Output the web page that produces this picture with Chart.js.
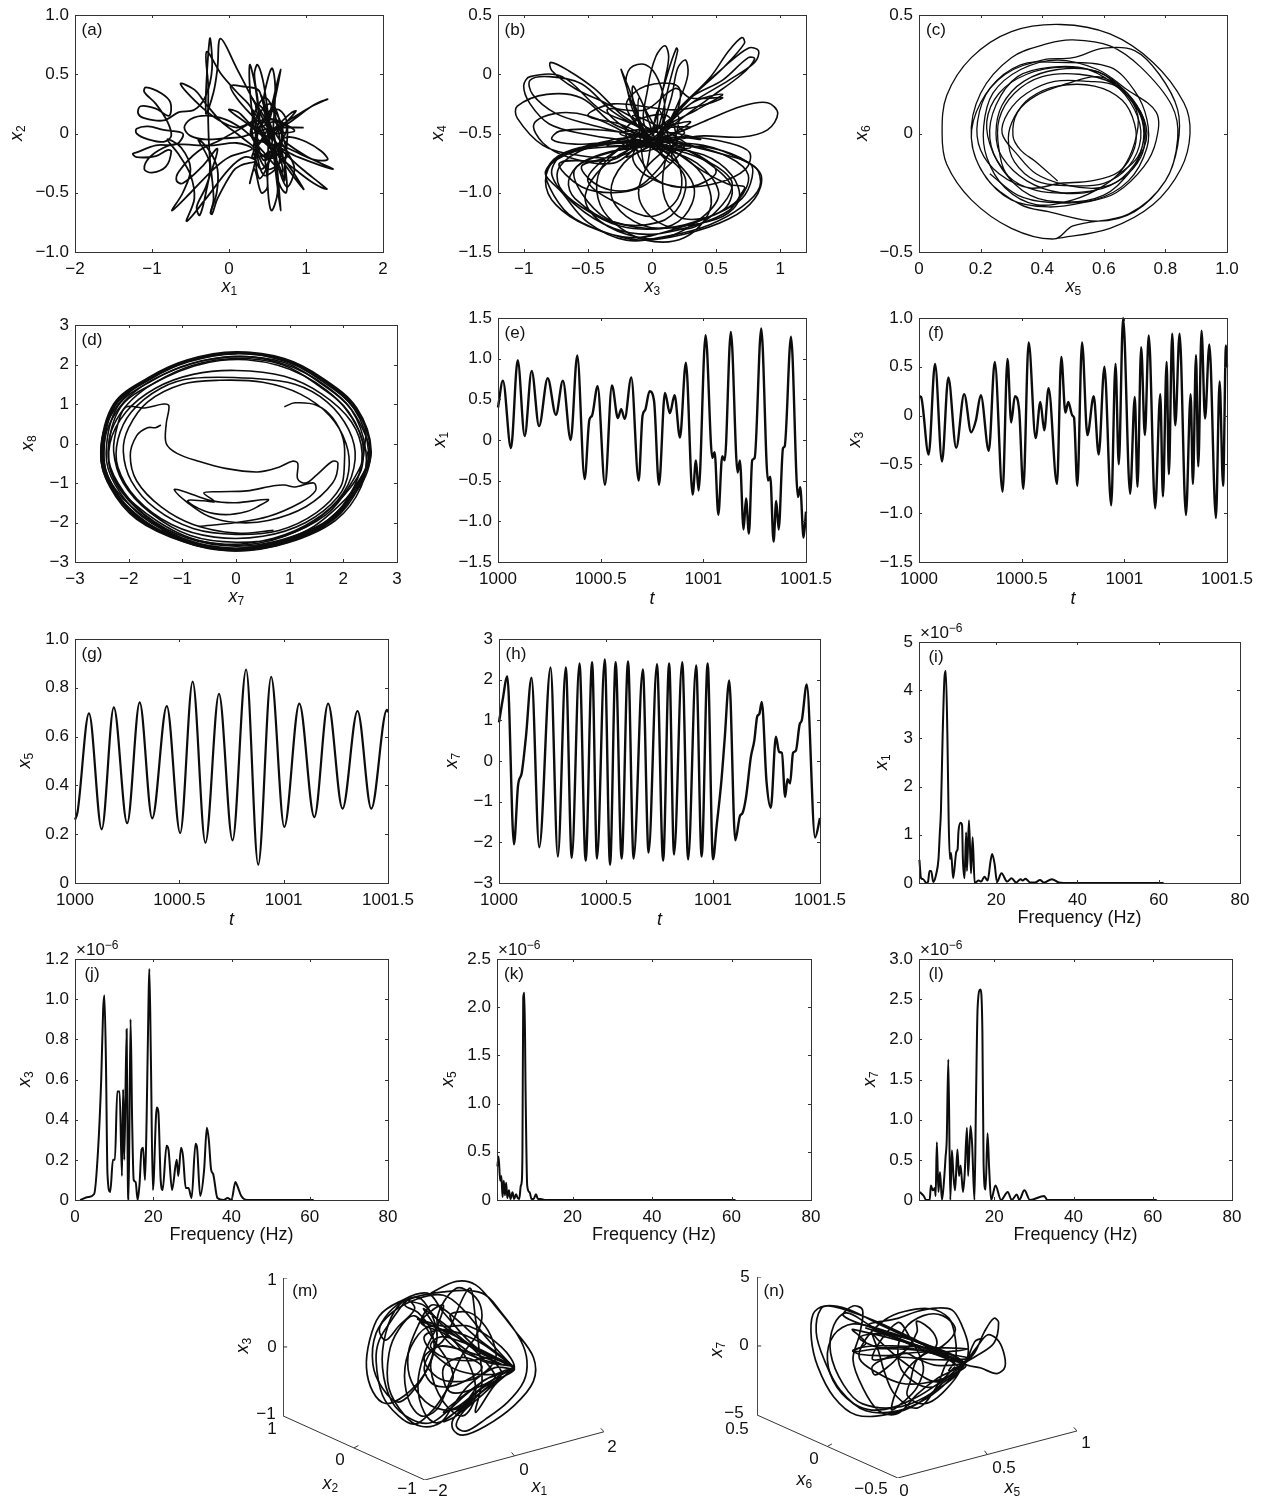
<!DOCTYPE html>
<html>
<head>
<meta charset="utf-8">
<title>Phase portraits, time series and spectra</title>
<script src="https://cdn.jsdelivr.net/npm/chart.js@4"></script>
<style>
  html, body { margin: 0; padding: 0; background: #fff; }
  #page { position: relative; width: 1266px; height: 1499px; overflow: hidden; }
  canvas { position: absolute; }
</style>
</head>
<body>
<div id="page"></div>
<script>

// (a) x1 against x2
const pathA = [[.97,.05],[.7,.05],[.5,.04],[.3,0],[.15,-.03],[-.05,-.04],[-.3,-.05],[-.5,-.02],[-.58,.05],[-.5,.12],[-.3,.15],[-.05,.12],[.15,.05],[.35,-.05],[.6,-.1],[.9,-.2],[1.35,-.3],[1,-.19],[.7,-.05],[.8,-.03],[1,-.07],[1.2,-.15],[1.28,-.22],[1.1,-.22],[.85,-.15],[.6,-.08],[.7,-.15],[.95,-.3],[1.2,-.43],[1.27,-.47],[1.1,-.42],[.85,-.3],[.65,-.2],[.75,-.25],[.97,-.47],[.8,-.33],[.6,-.15],[.45,-.05],[.8,.1],[1.1,.24],[1.28,.29],[1.05,.22],[.7,.08],[.5,0],[.6,.05],[.8,.17],[.87,.19],[.75,.1],[.5,-.05],[.37,-.05],[.28,.3],[.27,.58],[.34,.4],[.4,.1],[.37,.3],[.33,.5],[.37,.58],[.44,.45],[.5,.2],[.55,-.05],[.45,.25],[.5,.45],[.56,.55],[.6,.4],[.58,.1],[.55,-.1],[.5,.05],[.58,.3],[.67,.54],[.6,.3],[.5,.05],[.55,.18],[.65,.2],[.75,.1],[.75,-.1],[.72,-.3],[.72,-.4],[.67,-.3],[.52,-.1],[.37,.05],[.35,-.2],[.27,-.42],[.33,-.3],[.42,-.5],[.5,-.45],[.47,-.2],[.52,-.15],[.5,-.4],[.55,-.65],[.63,-.5],[.6,-.2],[.57,-.1],[.62,-.4],[.67,-.65],[.64,-.4],[.6,-.1],[.6,-.3],[.67,-.45],[.74,-.5],[.75,-.4],[.7,-.2],[.5,.05],[.3,.3],[.1,.55],[-.11,.8],[-.15,.55],[-.2,.35],[-.3,.17],[-.25,.8],[-.22,.55],[-.3,.32],[-.45,.2],[-.65,.18],[-.85,.11],[-1.1,.13],[-1.18,.17],[-1.15,.23],[-.95,.21],[-.78,.15],[-.76,.26],[-.88,.34],[-1.08,.39],[-1.1,.35],[-.95,.25],[-.8,.1],[-.75,-.02],[-.85,-.07],[-1.05,-.05],[-1.2,0],[-1.2,.04],[-1.05,.06],[-.85,.03],[-.6,0],[-.68,-.09],[-.95,-.1],[-1.2,-.16],[-1.25,-.17],[-1.2,-.2],[-.95,-.19],[-.8,-.14],[-.75,-.15],[-.82,-.28],[-1,-.33],[-1.1,-.3],[-1.03,-.2],[-.85,-.12],[-.7,-.09],[-.4,-.1],[-.2,-.1],[.1,-.08],[.3,-.13],[0,-.2],[-.2,-.3],[-.5,-.5],[-.74,-.65],[-.6,-.5],[-.5,-.3],[-.62,-.12],[-.8,-.05],[-.65,-.18],[-.5,-.35],[-.45,-.55],[-.55,-.74],[-.3,-.55],[0,-.3],[.2,-.2],[.35,-.23],[.15,-.27],[.05,-.32],[-.15,-.55],[-.22,-.68],[-.24,-.67],[-.16,-.5],[-.15,-.3],[-.25,-.15],[-.4,-.05],[-.25,-.25],[-.3,-.5],[-.38,-.69],[-.42,-.62],[-.3,-.45],[-.15,-.13],[-.35,-.28],[-.6,-.42],[-.68,-.4],[-.65,-.32],[-.4,-.15],[-.1,-.05],[.3,.1],[.1,.05],[-.15,.12],[-.4,.25],[-.63,.42],[-.45,.37],[-.3,.25],[-.1,.1],[.1,0],[.3,-.1],[.5,-.2],[.4,.35],[.15,.4],[.02,.4],[.1,.3],[.3,.15],[.5,.02],[.7,-.2],[.5,-.3],[.35,-.1],[.4,.1],[.6,.1],[.75,-.2],[.5,-.1],[.3,.2],[.45,.05]];
const pathA2 = [[.3,.3],[.5,.1],[.75,-.15],[.85,-.3],[.75,-.45],[.62,-.25],[.4,.1],[.35,.25],[.45,.2],[.6,-.1],[.42,-.3],[.32,-.1],[.55,.2],[.7,.02],[.6,-.2],[.38,-.15],[.3,.1],[.47,.3],[.62,.1],[.65,-.25],[.45,-.35],[.36,-.05],[.5,.12],[.75,.05],[.55,-.15],[.3,-.2],[.5,-.02],[.85,.02],[.6,.1],[.35,.05],[.12,.18],[0,.2],[.3,.05],[.55,-.12],[.4,-.38],[.35,-.15],[.52,.08],[.42,.32],[.55,.02],[.7,-.32],[.48,-.18],[.28,.02],[.55,.25],[.68,-.08],[.44,-.22],[.3,.2],[.1,.35],[-.1,.5],[-.29,.69],[-.27,.4],[-.27,.1],[-.25,-.2],[-.2,-.55],[-.24,-.67]];

// (b) x3 against x4
const pathB = [[0,-.57],[.4,-.6],[.7,-.72],[.85,-.85],[.8,-1.05],[.6,-1.22],[.25,-1.35],[-.1,-1.4],[-.4,-1.32],[-.65,-1.18],[-.8,-.95],[-.82,-.8],[-.68,-.66],[-.35,-.58],[0,-.56],[.3,-.6],[.6,-.7],[.75,-.85],[.68,-1.05],[.45,-1.2],[.1,-1.3],[-.25,-1.28],[-.55,-1.12],[-.72,-.95],[-.72,-.78],[-.5,-.62],[-.2,-.57],[0,-.6],[.45,-.62],[.76,-.75],[.78,-.87],[.7,-1.05],[.5,-1.18],[.2,-1.3],[-.15,-1.38],[-.5,-1.28],[-.75,-1.1],[-.83,-.9],[-.75,-.72],[-.4,-.6],[0,-.6],[.2,-.75],[.33,-.97],[.25,-1.2],[.05,-1.3],[-.2,-1.2],[-.32,-1],[-.22,-.75],[0,-.6],[.1,-.6],[.22,-.8],[.2,-1.05],[0,-1.2],[-.25,-1.1],[-.5,-.9],[-.35,-.7],[-.1,-.57],[0,-.6],[.35,-.75],[.52,-1],[.4,-1.2],[.1,-1.38],[-.2,-1.35],[-.45,-1.2],[-.52,-1.02],[-.38,-.78],[-.1,-.6],[0,-.62],[.25,-.85],[.22,-1.1],[.05,-1.25],[-.3,-1.25],[-.6,-1.05],[-.65,-.9],[-.55,-.75],[-.2,-.62],[0,-.55],[.3,-.53],[.6,-.58],[.76,-.66],[.73,-.8],[.5,-.92],[.2,-.95],[-.05,-.85],[-.15,-.7],[-.05,-.55],[.1,-.6],[.4,-.82],[.6,-.93],[.72,-.95],[.7,-1],[.6,-1.15],[.35,-1.27],[0,-1.35],[-.3,-1.3],[-.6,-1.1],[-.78,-.85],[-.7,-.68],[-.3,-.55],[-.05,-.5],[-.25,-.33],[-.45,-.12],[-.65,.03],[-.79,.1],[-.78,.03],[-.6,-.12],[-.35,-.25],[-.1,-.4],[0,-.5],[-.3,-.32],[-.55,-.08],[-.8,-.02],[-.95,-.05],[-.93,-.17],[-.75,-.33],[-.5,-.42],[-.2,-.5],[0,-.55],[-.1,-.45],[-.4,-.3],[-.7,-.02],[-.95,-.02],[-1,-.1],[-.95,-.25],[-.8,-.42],[-.55,-.5],[-.25,-.55],[0,-.55],[-.3,-.42],[-.55,-.2],[-.82,-.17],[-1.05,-.27],[-1.05,-.37],[-.85,-.6],[-.6,-.68],[-.3,-.7],[-.1,-.6],[-.2,-.5],[-.5,-.35],[-.75,-.33],[-.92,-.42],[-.85,-.58],[-.65,-.7],[-.3,-.75],[-.1,-.6],[0,-.55],[-.4,-.47],[-.72,-.48],[-.78,-.55],[-.6,-.59],[-.3,-.57],[0,-.56],[.2,-.3],[.45,-.03],[.6,.2],[.7,.31],[.72,.26],[.55,.05],[.3,-.2],[.1,-.45],[.05,-.5],[.35,-.15],[.55,.05],[.75,.22],[.83,.2],[.8,.1],[.6,-.05],[.3,-.25],[.1,-.45],[.05,-.5],[.3,-.2],[.55,-.05],[.75,.14],[.8,.13],[.7,0],[.45,-.2],[.2,-.4],[.05,-.55],[.4,-.4],[.7,-.27],[.9,-.24],[.98,-.33],[.9,-.47],[.7,-.53],[.4,-.52],[.1,-.55],[.1,-.45],[.35,-.3],[.55,-.17],[.3,-.25],[.05,-.55],[.2,-.53],[.38,-.55],[.2,-.5],[-.05,-.45],[-.03,-.1],[.03,.15],[.1,.24],[.13,.15],[.1,-.05],[.05,-.3],[0,-.5],[.05,-.45],[.13,-.1],[.2,.2],[.19,.22],[.12,0],[.05,-.3],[.05,-.5],[.15,-.2],[.2,.05],[.26,.12],[.28,0],[.22,-.2],[.1,-.45],[-.05,-.55],[-.12,-.3],[-.24,.04],[-.2,-.1],[-.15,-.3],[-.05,-.5],[-.2,-.1],[-.17,.05],[-.05,.08],[.05,-.05],[.1,-.3],[.05,-.55],[.2,-.3],[.2,-.1],[-.05,-.1],[-.2,-.25],[-.1,-.45],[.1,-.62],[.3,-.65],[.5,-.82],[.3,-.95],[.05,-.9],[-.1,-.7],[-.15,-.55],[-.35,-.7],[-.55,-.78],[-.4,-.95],[-.15,-.97],[.05,-.8],[.2,-.55],[.1,-.75],[.1,-1.05],[.25,-1.22],[.55,-1.15],[.62,-.95],[.4,-.72],[.1,-.55]];
const pathB2 = [[0,-.6],[.4,-.68],[.62,-.85],[.68,-1.05],[.55,-1.2],[.25,-1.28],[-.05,-1.3],[-.35,-1.22],[-.55,-1],[-.6,-.8],[-.35,-.66],[0,-.6],[0,-.55],[.5,-.66],[.8,-.78],[.84,-.95],[.7,-1.12],[.45,-1.27],[.15,-1.36],[-.2,-1.4],[-.5,-1.25],[-.7,-1],[-.83,-.82],[-.6,-.65],[-.2,-.6],[.05,-.55],[-.2,-.6],[-.4,-.8],[-.42,-1.05],[-.3,-1.25],[-.05,-1.4],[.25,-1.38],[.45,-1.15],[.42,-.9],[.25,-.7],[0,-.58],[.1,-.62],[-.05,-.8],[-.1,-1.05],[.05,-1.25],[.3,-1.3],[.55,-1.1],[.62,-.9],[.4,-.72],[.05,-.6],[-.1,-.58],[-.3,-.72],[-.72,-.75],[-.55,-.95],[-.3,-1],[-.08,-.95],[.1,-.8],[.25,-.6],[.05,-.55],[-.3,-.65],[.3,-.45],[-.25,-.5],[.3,-.62],[-.15,-.35],[.15,-.75],[.05,-.3],[-.05,-.8],[-.1,-.2],[.1,-.7],[.2,-.35],[-.2,-.7],[.3,-.4],[-.35,-.6],[.2,-.55],[-.1,-.52],[-.35,-.3],[-.05,-.3],[.18,-.12],[.3,-.2],[.55,-.2],[.2,-.3],[-.3,-.25],[-.5,-.35],[-.25,-.42],[.05,-.55],[-.05,-.3],[-.15,-.1],[-.1,-.4],[.15,-.55],[-.2,-.6],[.1,-.42],[.25,-.5],[-.1,-.65],[-.2,-.45],[.12,-.35],[.18,-.65],[-.05,-.6]];

// (c) x5 against x6, spiralling outwards
const pathC = [[.45,-.2],[.38,-.12],[.33,-.07],[.305,-.01],[.32,.09],[.38,.16],[.48,.21],[.58,.24],[.66,.19],[.72,.09],[.735,0],[.72,-.1],[.66,-.19],[.58,-.23],[.47,-.215],[.38,-.17],[.32,-.09],[.27,0],[.29,.09],[.35,.17],[.44,.22],[.55,.22],[.64,.2],[.71,.1],[.73,0],[.71,-.1],[.65,-.17],[.57,-.24],[.46,-.25],[.35,-.2],[.27,-.1],[.25,0],[.27,.12],[.34,.22],[.45,.27],[.58,.26],[.67,.17],[.73,.05],[.72,-.08],[.68,-.17],[.6,-.26],[.48,-.29],[.36,-.26],[.27,-.15],[.23,-.02],[.25,.12],[.32,.24],[.43,.28],[.55,.27],[.66,.18],[.71,.08],[.7,-.04],[.66,-.15],[.6,-.22],[.5,-.28],[.38,-.3],[.28,-.23],[.22,-.1],[.21,.03],[.24,.17],[.33,.27],[.45,.31],[.58,.27],[.67,.19],[.77,.09],[.77,-.03],[.73,-.14],[.64,-.25],[.54,-.29],[.42,-.31],[.3,-.28],[.21,-.17],[.17,-.02],[.2,.13],[.28,.25],[.4,.31],[.5,.32],[.6,.36],[.7,.35],[.78,.25],[.84,.1],[.84,-.05],[.8,-.2],[.7,-.33],[.58,-.37],[.42,-.33],[.33,-.3],[.22,-.19],[.17,-.02],[.2,.17],[.3,.32],[.42,.38],[.5,.395],[.62,.37],[.72,.28],[.82,.12],[.84,-.02],[.8,-.2],[.68,-.34],[.5,-.39],[.44,-.445],[.3,-.4],[.17,-.28],[.09,-.13],[.075,0],[.09,.16],[.17,.32],[.3,.43],[.46,.46],[.62,.42],[.76,.3],[.86,.13],[.88,0],[.85,-.15],[.76,-.3],[.62,-.4],[.44,-.445]];
const pathC2 = [[.3,-.2],[.24,-.08],[.22,.05],[.26,.17],[.35,.25],[.47,.28],[.6,.25],[.7,.13],[.74,0],[.7,-.13],[.62,-.22],[.5,-.25],[.38,-.24],[.29,-.18],[.26,-.07],[.26,.06],[.31,.17],[.4,.24],[.52,.25],[.63,.21],[.7,.1],[.72,-.02],[.68,-.14],[.6,-.21],[.48,-.22],[.38,-.2],[.31,-.12],[.29,-.02],[.31,.07],[.36,.15],[.45,.2],[.57,.2],[.66,.14],[.7,.04],[.7,-.06],[.65,-.16],[.56,-.2],[.46,-.21],[.36,-.23],[.26,-.17],[.2,-.07],[.19,.05],[.23,.19],[.33,.29],[.45,.3],[.62,.28],[.7,.18],[.74,.06],[.74,-.06],[.68,-.2],[.57,-.28],[.42,-.29],[.32,-.26],[.23,-.17]];

// (d) x7 against x8, inner laps first, then the heavy outer band
const pathD = [[.9,.93],[1.1,1.03],[1.5,.97],[1.8,.65],[2,.1],[2.02,-.5],[1.95,-1.1],[1.5,-1.75],[.8,-2.2],[0,-2.3],[-.8,-2.15],[-1.5,-1.65],[-1.95,-.95],[-2.1,-.2],[-2,.4],[-1.65,1.05],[-1,1.5],[-.3,1.6],[.5,1.55],[1.2,1.25],[1.75,.7],[2.05,0],[2.1,-.7],[1.9,-1.35],[1.3,-2],[.5,-2.35],[-.4,-2.37],[-1.2,-2.05],[-1.85,-1.4],[-2.2,-.6],[-2.2,.1],[-1.95,.8],[-1.4,1.4],[-.8,1.65],[.3,1.65],[1.1,1.5],[1.7,1.05],[2.1,.35],[2.22,-.4],[2,-1.25],[1.45,-1.95],[.7,-2.4],[-.2,-2.55],[-1.1,-2.3],[-1.85,-1.65],[-2.3,-.8],[-2.35,0],[-2.05,.8],[-1.5,1.4],[-.8,1.75],[0,1.85],[.9,1.7],[1.6,1.25],[2.15,.55],[2.35,-.25],[2.2,-1.1],[1.75,-1.9],[.9,-2.45],[0,-2.65],[-.9,-2.45],[-1.75,-1.85],[-2.25,-1.05],[-2.42,-.25],[-2.2,.95],[-1.55,1.6],[-.85,2.02],[0,2.2],[.9,2.05],[1.55,1.55],[2.15,.85],[2.42,-.2],[2.33,-1.1],[1.85,-1.95],[.95,-2.52],[0,-2.72],[-.95,-2.5],[-1.85,-1.92],[-2.35,-1.1],[-2.52,-.25],[-2.28,1],[-1.62,1.68],[-.9,2.12],[0,2.32],[.9,2.15],[1.62,1.65],[2.25,.9],[2.52,-.2],[2.28,-1.05],[1.8,-1.9],[.92,-2.48],[0,-2.68],[-.92,-2.47],[-1.8,-1.88],[-2.3,-1.07],[-2.47,-.25],[-2.24,.97],[-1.58,1.64],[-.88,2.07],[0,2.27],[.9,2.1],[1.58,1.6],[2.2,.88],[2.47,-.2],[2.3,-1.08],[1.82,-1.93],[.93,-2.5],[0,-2.7],[-.93,-2.49],[-1.82,-1.9],[-2.32,-1.09],[-2.5,-.25],[-2.26,.98],[-1.6,1.66],[-.89,2.1],[0,2.3],[.88,2.12],[1.6,1.63],[2.23,.89],[2.5,-.2],[2.25,-1.03],[1.78,-1.88],[.9,-2.42],[0,-2.6],[-.9,-2.4],[-1.7,-1.8],[-2.2,-1],[-2.38,-.25],[-2.15,.92],[-1.5,1.55],[-.8,1.98],[0,2.15],[.85,2],[1.5,1.5],[2.1,.8],[2.38,-.2],[2.15,-1],[1.68,-1.8],[.85,-2.36],[0,-2.5],[-.85,-2.33],[-1.6,-1.75],[-2.1,-1],[-2.28,-.2],[-2.2,.5],[-2.05,.92],[-1.7,.9],[-1.35,1],[-1.25,.95],[-1.3,.5],[-1.3,0],[-1.1,-.25],[-.7,-.45],[-.2,-.63],[.4,-.72],[.8,-.6],[1.05,-.45],[1.15,-.5],[1.15,-.9],[1.3,-1],[1.5,-.8],[1.8,-.45],[1.9,-.5],[1.8,-1],[1.3,-1.6],[.6,-1.95],[0,-2],[-.5,-1.85],[-.9,-1.5],[-1.15,-1.17],[-1,-1.2],[-.45,-1.45],[0,-1.5],[.6,-1.42],[.4,-1.6],[.2,-1.72],[-.2,-1.8],[-.6,-1.7],[-.9,-1.45],[-.6,-1.45],[-.4,-1.47],[-.6,-1.25],[-.3,-1.22],[.2,-1.2],[.7,-1.07],[.9,-1.05],[1.1,-1.1],[1.45,-1],[1.48,-1.2],[1.2,-1.5],[.6,-1.85],[0,-2],[-.7,-2.1]];
const pathD2 = [[-1.4,.47],[-1.5,.4],[-1.65,.4],[-1.85,.2],[-1.97,-.3],[-1.85,-.95],[-1.4,-1.6],[-.8,-2.05],[0,-2.27],[.7,-2.2]];
const pathD3 = [[2.45,-.2],[2.4,-.7],[2.2,-1.15],[1.9,-1.6],[1.45,-2.1],[.95,-2.42],[.45,-2.6],[0,-2.66],[-.5,-2.6],[-1,-2.4],[-1.5,-2.05],[-1.95,-1.6],[-2.25,-1.15],[-2.42,-.7],[-2.46,-.2],[-2.4,.35],[-2.15,.95],[-1.8,1.4],[-1.35,1.75],[-.8,2.03],[-.3,2.17],[.2,2.2],[.8,2.05],[1.3,1.78],[1.75,1.38],[2.1,.95],[2.35,.4],[2.5,-.2],[2.45,-.7],[2.26,-1.18],[1.96,-1.63],[1.5,-2.15],[1,-2.48],[.48,-2.66],[0,-2.72],[-.52,-2.66],[-1.02,-2.46],[-1.55,-2.1],[-2,-1.62],[-2.3,-1.18],[-2.47,-.72],[-2.52,-.2],[-2.45,.37],[-2.2,.98],[-1.85,1.45],[-1.4,1.8],[-.85,2.1],[-.3,2.25],[.2,2.3],[.82,2.12],[1.35,1.84],[1.8,1.43],[2.15,.98],[2.41,.42],[2.38,-.2],[2.33,-.68],[2.13,-1.12],[1.84,-1.55],[1.4,-2.03],[.92,-2.34],[.44,-2.52],[0,-2.58],[-.48,-2.52],[-.97,-2.33],[-1.45,-1.98],[-1.88,-1.55],[-2.18,-1.12],[-2.34,-.68],[-2.38,-.2],[-2.32,.33],[-2.08,.9],[-1.74,1.34],[-1.3,1.68],[-.78,1.96],[-.3,2.1],[.2,2.12],[.78,1.98],[1.26,1.72],[1.7,1.33],[2.03,.9],[2.27,.38],[2.42,-.2]];

// (e)-(h) time series, [t - 1000, value]
const seriesE = [[0,.4],[.024,.73],[.063,-.1],[.096,.98],[.13,.05],[.164,.85],[.2,.17],[.242,.76],[.282,.31],[.316,.73],[.354,0],[.386,1.04],[.422,-.48],[.445,.25],[.458,.3],[.485,.66],[.521,-.55],[.555,.67],[.584,.27],[.6,.38],[.617,.26],[.649,.77],[.685,-.5],[.704,.3],[.717,.37],[.738,.6],[.76,.48],[.784,-.55],[.813,.58],[.837,.33],[.86,.55],[.886,.03],[.915,.95],[.948,-.67],[.964,-.25],[.977,-.62],[1.011,1.29],[1.044,-.22],[1.055,-.15],[1.073,-.92],[1.092,-.2],[1.104,-.25],[1.134,1.33],[1.167,-.4],[1.178,-.25],[1.196,-1.1],[1.208,-.72],[1.222,-1.15],[1.238,-.25],[1.25,-.22],[1.282,1.37],[1.315,-.5],[1.326,-.45],[1.342,-1.25],[1.355,-.75],[1.367,-1.1],[1.388,-.1],[1.396,-.08],[1.427,1.27],[1.461,-.7],[1.472,-.58],[1.488,-1.2],[1.5,-.88]];
const seriesF = [[0,.2],[.01,.19],[.047,-.4],[.078,.53],[.112,-.47],[.143,.39],[.181,-.33],[.22,.22],[.254,-.17],[.277,-.05],[.301,.21],[.34,-.36],[.369,.55],[.407,-.78],[.431,.58],[.449,-.07],[.467,.2],[.488,.05],[.508,-.75],[.534,.75],[.568,-.23],[.591,.14],[.61,-.15],[.631,.28],[.672,-.7],[.693,.6],[.713,.03],[.727,.14],[.747,0],[.755,-.02],[.771,-.72],[.794,.75],[.82,-.2],[.851,.2],[.875,-.4],[.903,.5],[.936,-.92],[.957,.53],[.973,-.5],[.994,1],[1.028,-.8],[1.051,.19],[1.064,-.73],[1.082,.7],[1.1,-.2],[1.119,.82],[1.15,-.95],[1.175,.22],[1.188,-.83],[1.206,.55],[1.217,-.6],[1.233,.84],[1.248,-.1],[1.269,.84],[1.3,-1.02],[1.323,.22],[1.334,-.7],[1.349,.62],[1.36,-.52],[1.376,.87],[1.393,-.03],[1.414,.73],[1.446,-1.05],[1.464,.35],[1.481,-.72],[1.495,.72],[1.5,.5]];
const seriesG = [[0,.26],[.012,.29],[.067,.695],[.128,.22],[.186,.72],[.25,.245],[.31,.74],[.37,.265],[.44,.725],[.504,.205],[.564,.825],[.625,.165],[.69,.775],[.755,.175],[.82,.875],[.878,.075],[.94,.845],[1.003,.23],[1.075,.735],[1.147,.27],[1.213,.735],[1.282,.305],[1.354,.705],[1.42,.305],[1.495,.71],[1.5,.7]];
const seriesH = [[0,.95],[.017,1.5],[.039,2.08],[.07,-2.05],[.089,-.6],[.106,-.3],[.126,.6],[.152,2.05],[.188,-2.12],[.241,2.3],[.275,-2.35],[.312,2.3],[.34,-2.38],[.376,2.4],[.405,-2.45],[.435,2.43],[.458,-2.4],[.494,2.5],[.519,-2.55],[.545,2.43],[.573,-2.4],[.603,2.45],[.629,-2.4],[.672,2.25],[.699,-2.25],[.738,2.38],[.767,-2.45],[.795,2.4],[.818,-2.3],[.856,2.43],[.884,-2.42],[.921,2.35],[.947,-2.35],[.975,2.4],[1,-2.42],[1.017,-1.6],[1.039,-.5],[1.054,.5],[1.076,1.98],[1.104,-1.95],[1.126,-1.35],[1.138,-1.28],[1.154,-.9],[1.177,.1],[1.193,.5],[1.207,1.1],[1.216,1.15],[1.228,1.45],[1.25,-.5],[1.27,-1.15],[1.294,.6],[1.309,.22],[1.322,.2],[1.337,-.88],[1.348,-.45],[1.36,-.55],[1.374,.2],[1.387,.25],[1.405,.9],[1.415,1],[1.438,1.88],[1.477,-1.88],[1.5,-1.4]];

// (i)-(l) spectra, [frequency, amplitude in units of 1e-6]
const spectrumI = [[1.1,.48],[1.5,.1],[2,.08],[2.8,0],[3.2,.02],[3.6,.25],[4,.25],[4.5,.02],[5.2,.17],[5.8,.5],[6.1,1],[6.4,1.5],[6.8,3],[7.3,4.3],[7.6,4.4],[8,3],[8.3,1.3],[8.6,.5],[8.9,.62],[9.4,.1],[10.2,.65],[10.5,.7],[10.7,1.05],[11.2,1.25],[11.6,1.2],[11.8,.5],[12.2,.1],[12.6,1.05],[12.8,.25],[13.3,1.3],[13.8,.2],[14.2,.95],[14.7,0],[15.7,.05],[16.3,.03],[17.1,.13],[17.9,.05],[18.6,.45],[19,.6],[19.6,.4],[20.2,.02],[21.3,.2],[22.7,.03],[23.8,.1],[24.9,.01],[26,.08],[26.5,.05],[27.2,.09],[28.4,.01],[29.5,.01],[30.8,.06],[31.7,.01],[33.7,.08],[35.4,.01],[36.6,0],[61.2,0]];
const spectrumJ = [[1.3,0],[3.4,.015],[4.9,.03],[5.9,.25],[6.7,.6],[7.2,.95],[7.5,1.02],[7.9,.7],[8.3,.13],[9,.04],[9.7,.2],[10.2,.2],[10.8,.54],[11.4,.54],[12,.12],[12.3,.55],[12.6,.2],[13.2,.85],[13.5,.1],[13.7,0],[14.2,.9],[14.6,.4],[15,.1],[15.5,.09],[16,0],[16.5,.08],[17,.25],[17.4,.26],[17.9,.1],[18.3,.4],[18.8,1],[19,1.15],[19.4,.7],[19.9,.05],[20.9,.46],[21.3,.44],[21.9,.1],[22.4,.05],[23.4,.27],[23.9,.25],[24.8,.05],[26,.2],[26.4,.12],[27.1,.26],[27.6,.22],[28.3,.06],[29,.06],[29.8,.01],[30.8,.28],[31.2,.26],[32,.02],[33,.15],[33.7,.36],[34.2,.3],[34.8,.15],[35.3,.13],[36.4,.01],[38,0],[39,.01],[40,0],[41,.09],[41.5,.07],[42.5,.02],[44,0],[61,0]];
const spectrumK = [[1.1,.35],[1.4,.45],[1.8,.2],[2.1,.25],[2.4,.03],[2.7,.2],[3,.05],[3.3,.18],[3.6,.02],[4,.1],[4.4,.01],[4.9,.08],[5.3,.01],[5.8,.06],[6.2,.02],[6.6,.01],[7,.15],[7.2,.18],[7.4,.5],[7.6,2.1],[7.9,2.15],[8.2,1.1],[8.6,.15],[9.2,.08],[9.7,.01],[10.2,.01],[10.8,.06],[11.3,.01],[12,.01],[13,0],[61,0]];
const spectrumL = [[1.2,.1],[2.2,.05],[2.8,0],[3.7,0],[4,.18],[4.5,.12],[5,.15],[5.2,.05],[5.5,.72],[5.9,.1],[6.3,.35],[6.8,0],[7.4,.3],[7.7,.53],[8,.75],[8.4,1.75],[8.9,0],[9.3,.62],[9.7,.3],[10.1,.12],[10.7,.63],[11.1,.3],[11.5,.43],[12.1,.1],[12.5,.3],[13.1,.9],[13.4,.3],[14,.92],[14.4,.7],[15,0],[15.4,1.3],[15.8,2.4],[16.5,2.62],[17,2.1],[17.3,.45],[17.8,.13],[18.3,.83],[18.7,.4],[19.2,0],[20.3,.18],[21.7,0],[23.4,.1],[24.4,0],[25.7,.07],[26.3,0],[27.6,.12],[29,0],[32.6,.05],[33.4,0],[61,0]];

// (m), (n) 3d views: read as projected points, [percent across the floor, height on the vertical axis]
const pathM = [[46,.78],[54,.95],[60,.9],[66,.6],[72,.25],[78,-.15],[78,-.5],[72,-.85],[63,-1.15],[56,-1.28],[53,-1.2],[53,-1.05],[58,-.8],[66,-.5],[72,-.31],[62,-.1],[50,.3],[44,.6],[39,.68],[50,.8],[62,.78],[68,.5],[74,.1],[76,-.2],[75,-.5],[70,-.8],[63,-1.05],[57,-1.22],[54,-1.15],[56,-.95],[62,-.7],[68,-.45],[72,-.31],[60,0],[50,.5],[45,.78],[36,.65],[30,.45],[27,.1],[26,-.3],[28,-.65],[32,-.82],[38,-.7],[44,-.4],[47,-.05],[46,.25],[42,.5],[38,.6],[39,.68],[41,.55],[36,.3],[32,.1],[30,.25],[33,.5],[38,.68],[34,.4],[30,.1],[29,-.2],[31,-.7],[36,-1],[41,-1.12],[46,-.95],[50,-.7],[53,-.4],[47,.1],[41,.45],[36,.25],[33,-.1],[33,-.6],[38,-1],[43,-1.15],[49,-1.1],[53,-.85],[58,-.55],[66,-.3],[72,-.31],[60,.15],[50,.55],[46,.6],[42,.3],[39,-.1],[40,-.5],[46,-.85],[54,-.9],[62,-.6],[72,-.31],[62,-.2],[50,.2],[43,.35],[47,.55],[50,.6],[48,.3],[44,-.1],[42,-.55],[44,-.95],[48,-1.1],[56,-.85],[62,-.5],[68,-.35],[56,.1],[42,.4],[50,.3],[58,.3],[68,0],[72,-.31],[65,-.4],[55,-.35],[47,-.1],[44,.15],[50,.25],[60,.1],[68,-.15],[72,-.3],[66,-.15],[58,-.2],[50,-.15],[46,0],[47,.1],[50,.15],[54,.1],[62,-.05],[72,-.3],[60,0],[52,.45],[58,.5],[63,.3],[66,0],[66,-.2],[60,-.45],[52,-.5],[47,-.4],[44,-.15],[50,.1],[58,.85],[60,.4],[61,0],[62,-.5],[60,-.95],[66,-.55],[72,-.31],[63,-.55],[55,-.85],[50,-.95],[55,-.75],[64,-.45],[72,-.31],[62,-.65],[54,-1],[50,-1.08],[58,-.8],[68,-.42]];
const pathM2 = [[72,-.31],[64,.1],[56,.55],[50,.75],[42,.7],[34,.5],[29,.2],[28,-.25],[31,-.6],[36,-.8],[42,-.55],[46,-.2],[48,.15],[46,.5],[42,.72],[36,.6],[32,.2],[31,-.3],[34,-.8],[40,-1.05],[46,-1.1],[52,-.9],[58,-.65],[66,-.4],[44,.55],[48,.2],[46,-.3],[50,-.8],[56,-1],[60,-.7],[58,-.25],[52,.15],[46,.3],[41,.1],[38,-.3],[39,-.75],[43,-1],[48,-.9],[52,-.5],[56,-.1],[60,.15],[62,.45],[60,.72],[54,.85],[48,.4],[52,.05],[60,-.15],[68,-.25],[56,-.05],[48,0],[44,-.3],[47,-.55],[54,-.55],[62,-.3],[56,-.15],[50,-.3],[52,-.65],[60,-.6],[70,-.35]];
const pathN = [[64.6,-1.25],[50,.3],[38,1.6],[28,2.7],[21,2.9],[17.5,2.3],[17,.5],[19,-1.5],[24,-3.7],[31,-5],[42,-4.9],[50,-4.2],[58,-2.7],[64.6,-1.25],[50,.4],[36,1.9],[24,2.85],[20,2.7],[18.5,1],[21,-1],[26,-3.2],[34,-4.7],[44,-4.7],[53,-3.8],[60,-2.5],[64,-1.3],[48,.2],[36,1.4],[28,2.4],[24,1.5],[23,-.5],[27,-2.8],[33,-4.2],[45,-4.4],[56,-3.2],[63,-1.6],[50,-.1],[36,1.3],[27,2.2],[30,2.9],[33,2.6],[32,.8],[30,-1],[33,-3],[38,-4.7],[44,-4.9],[50,-3.5],[56,-2.4],[64,-1.2],[50,.3],[35,1.5],[44,2],[50,2.5],[56,2.75],[61,2.6],[64,1.5],[66,0],[65,-1.3],[60,-2.2],[52,-2.7],[45,-2.7],[38,-2],[32,-.9],[34,.5],[40,1.9],[46,2.5],[54,2.7],[60,2],[62,.5],[62,-1],[60,-1.8],[64.6,-1.25],[68,-.5],[71,1],[74,2],[75.5,1.7],[74,.2],[68,-.8],[65,-1.3],[70,-1.6],[75,-2],[77.5,-1.5],[77,-.4],[75,.5],[72,.8],[69,0],[66,-1],[68,.3],[70,.5],[68,-.3],[64,-1.2],[54,-.45],[40,-.7],[32,-.6],[30,-.3],[36,0],[44,0],[54,-.1],[66,-.2],[54,-.4],[44,.5],[34,1.3],[42,.7],[52,-.1],[64,-1.2],[56,-1.4],[50,-.9],[46,-.5],[42,-1.3],[37,-2.1],[36,-1.5],[40,-.9],[46,-.4],[50,1],[50,1.8],[55,1],[56,0],[50,-1],[48,-2.5],[47,-3.6],[52,-4.2],[58,-3.4],[64,-1.4],[60,-1],[56,-3],[50,-4.5],[43,-3.5],[40,-2],[38,-.4],[36,.9],[38,.4],[46,-1.2],[56,-2.6],[62,-1.5]];
const pathN2 = [[64,-1.2],[52,.1],[40,1.1],[30,1.6],[24,.8],[22,-1],[25,-3],[32,-4.4],[40,-4.6],[50,-3.7],[58,-2.5],[65,-1.3],[30,1.2],[34,.2],[30,-.4],[38,-.2],[50,-.3],[60,-.6],[66,-.9],[56,-1],[44,-.8],[36,-.9],[44,1.7],[48,.5],[52,-1.5],[50,-3],[46,-4],[42,-4.6],[46,-2],[52,-.6],[58,0],[62,1.2],[58,2.2],[52,2.2],[46,1.2],[44,-.5],[46,-2],[54,-3],[62,-1.8],[64.6,-1.2],[56,-.2],[46,.6],[38,.9],[32,.6],[38,-.1],[46,-.1],[56,-.6],[64,-1.1]];

// open 3d frames: vertical axis, floor to the front corner, out to the right corner, then the small ticks
const frameM = [[0,1],[0,-1],[44.2,-1.93],[100,-1.23],[null,null],[0,1],[1.3,1],[null,null],[0,0],[1.3,0],[null,null],[22.1,-1.465],[23.5,-1.43],[null,null],[72.1,-1.58],[71.2,-1.53],[null,null],[100,-1.23],[99,-1.18]];
const frameN = [[0,5],[0,-5],[44,-9.57],[100,-6.16],[null,null],[0,5],[1.3,5],[null,null],[0,0],[1.3,0],[null,null],[22,-7.28],[23.4,-7.1],[null,null],[72,-7.87],[71.1,-7.6],[null,null],[100,-6.16],[99,-5.9]];

// tick values of every panel
const ticksA = { x: [-2,-1,0,1,2], y: [-1,-.5,0,.5,1] };
const ticksB = { x: [-1,-.5,0,.5,1], y: [-1.5,-1,-.5,0,.5] };
const ticksC = { x: [0,.2,.4,.6,.8,1], y: [-.5,0,.5] };
const ticksD = { x: [-3,-2,-1,0,1,2,3], y: [-3,-2,-1,0,1,2,3] };
const ticksT = [1000,1000.5,1001,1001.5];
const ticksE = [-1.5,-1,-.5,0,.5,1,1.5];
const ticksF = [-1.5,-1,-.5,0,.5,1];
const ticksG = [0,.2,.4,.6,.8,1];
const ticksH = [-3,-2,-1,0,1,2,3];
const ticksFreq = [20,40,60,80];
const ticksFreqJ = [0,20,40,60,80];
const ticksI = [0,1,2,3,4,5];
const ticksJ = [0,.2,.4,.6,.8,1,1.2];
const ticksK = [0,.5,1,1.5,2,2.5];
const ticksL = [0,.5,1,1.5,2,2.5,3];

const FONT = '"Liberation Sans", Arial, sans-serif';
const INK = '#0c0c0c';
const TEXT = '#111';
const FRAME = '#333';

const toPoints = (pairs) => pairs.map(p => ({ x: p[0], y: p[1] }));
const toTimePoints = (pairs) => pairs.map(p => ({ x: 1000 + p[0], y: p[1] }));

// turns a tick value into its label, dec = fixed decimals or undefined
function tickLabel(v, dec) {
  if (v === 0) return '0';
  let s = dec === undefined ? String(Math.abs(v)) : Math.abs(v).toFixed(dec);
  return (v < 0 ? '\u2212' : '') + s;
}

// italic x with a small subscript, optionally turned for a y axis
function drawVar(ctx, sub, x, y, turned) {
  ctx.save();
  ctx.translate(x, y);
  if (turned) ctx.rotate(-Math.PI / 2);
  ctx.fillStyle = TEXT;
  ctx.textBaseline = 'middle';
  ctx.textAlign = 'left';
  ctx.font = 'italic 18px ' + FONT;
  let w = ctx.measureText('x').width;
  ctx.fillText('x', -(w + 6) / 2, 0);
  if (sub) {
    ctx.font = '12px ' + FONT;
    ctx.fillText(sub, -(w + 6) / 2 + w, 5);
  }
  ctx.restore();
}

function drawText(ctx, text, x, y, font) {
  ctx.save();
  ctx.fillStyle = TEXT;
  ctx.textBaseline = 'middle';
  ctx.textAlign = 'center';
  ctx.font = font || ('17px ' + FONT);
  ctx.fillText(text, x, y);
  ctx.restore();
}

function addCanvas(left, top, w, h) {
  let c = document.createElement('canvas');
  c.width = w;
  c.height = h;
  c.style.left = left + 'px';
  c.style.top = top + 'px';
  document.getElementById('page').appendChild(c);
  return c.getContext('2d');
}

// one boxed 2d panel, box = [left, top, right, bottom] of the plot area on the page
function panel(p) {
  const ml = 72, mt = 26, mr = 42, mb = 52;
  const [L, T, R, B] = p.box;
  const ox = L - ml, oy = T - mt;
  let ctx = addCanvas(ox, oy, R - L + ml + mr, B - T + mt + mb);

  let decor = {
    id: 'decor',
    afterDraw(chart) {
      const c = chart.ctx, a = chart.chartArea;
      c.save();
      c.strokeStyle = FRAME;
      c.lineWidth = 1;
      c.strokeRect(a.left + .5, a.top + .5, a.right - a.left, a.bottom - a.top);
      c.beginPath();
      p.xTicks.forEach(v => {
        let px = Math.round(chart.scales.x.getPixelForValue(v)) + .5;
        c.moveTo(px, a.bottom); c.lineTo(px, a.bottom - 3);
        c.moveTo(px, a.top); c.lineTo(px, a.top + 3);
      });
      p.yTicks.forEach(v => {
        let py = Math.round(chart.scales.y.getPixelForValue(v)) + .5;
        c.moveTo(a.left, py); c.lineTo(a.left + 3, py);
        c.moveTo(a.right, py); c.lineTo(a.right - 3, py);
      });
      c.stroke();
      c.restore();

      drawText(c, p.tag, a.left + 17, a.top + 15, '17px ' + FONT);

      let midX = (a.left + a.right) / 2, midY = (a.top + a.bottom) / 2;
      if (p.xName === 't') {
        drawText(c, 't', midX, a.bottom + 37, 'italic 18px ' + FONT);
      } else if (p.xName === 'f') {
        drawText(c, 'Frequency (Hz)', midX, a.bottom + 35, '18px ' + FONT);
      } else {
        drawVar(c, p.xName, midX, a.bottom + 35, false);
      }
      drawVar(c, p.yName, a.left - p.yGap, midY, true);

      // the common factor above the spectra
      if (p.scaled) {
        c.save();
        c.fillStyle = TEXT;
        c.textBaseline = 'alphabetic';
        c.font = '17px ' + FONT;
        c.fillText('\u00d710', a.left + 1, a.top - 4);
        let w = c.measureText('\u00d710').width;
        c.font = '12px ' + FONT;
        c.fillText('\u22126', a.left + 1 + w, a.top - 10);
        c.restore();
      }
    }
  };

  let sets = p.curves.map(points => ({
    data: points,
    showLine: true,
    pointRadius: 0,
    borderColor: INK,
    borderWidth: p.lw,
    tension: p.mono ? 0 : .35,
    cubicInterpolationMode: p.mono ? 'monotone' : 'default',
    clip: 3,
    fill: false
  }));

  const tickFont = { family: FONT, size: 17 };

  new Chart(ctx, {
    type: 'scatter',
    data: { datasets: sets },
    options: {
      responsive: false,
      animation: false,
      events: [],
      layout: { padding: { top: mt, right: mr, left: 0, bottom: 0 } },
      plugins: { legend: { display: false }, tooltip: { enabled: false } },
      scales: {
        x: {
          type: 'linear',
          min: p.xRange[0],
          max: p.xRange[1],
          grid: { display: false, drawTicks: false },
          border: { display: false },
          afterBuildTicks: s => { s.ticks = p.xTicks.map(v => ({ value: v })); },
          afterFit: s => { s.height = mb; },
          ticks: {
            autoSkip: false, maxRotation: 0, minRotation: 0, padding: 7,
            color: TEXT, font: tickFont,
            callback: v => tickLabel(v, p.xDec)
          }
        },
        y: {
          type: 'linear',
          min: p.yRange[0],
          max: p.yRange[1],
          grid: { display: false, drawTicks: false },
          border: { display: false },
          afterBuildTicks: s => { s.ticks = p.yTicks.map(v => ({ value: v })); },
          afterFit: s => { s.width = ml; },
          ticks: {
            autoSkip: false, padding: 6,
            color: TEXT, font: tickFont,
            callback: v => tickLabel(v, p.yDec)
          }
        }
      }
    },
    plugins: [decor]
  });
}

// the open 3d frames: a hidden pair of scales holds the projected points
function panel3d(p) {
  const ml = 50, mt = 12, mr = 40, mb = 19;
  const [L, T, R, B] = p.box;
  const ox = L - ml, oy = T - mt;
  let ctx = addCanvas(ox, oy, R - L + ml + mr, B - T + mt + mb);

  let decor = {
    id: 'decor3d',
    afterDraw(chart) {
      const c = chart.ctx;
      p.labels.forEach(l => drawText(c, l[0], l[1] - ox, l[2] - oy));
      drawText(c, p.tag, p.tagAt[0] - ox, p.tagAt[1] - oy);
      p.names.forEach(n => drawVar(c, n[0], n[1] - ox, n[2] - oy, n[3]));
    }
  };

  let curveSets = p.curves.map(points => ({
    data: points, showLine: true, pointRadius: 0, borderColor: INK, borderWidth: 1.7, tension: .35
  }));

  new Chart(ctx, {
    type: 'scatter',
    data: {
      datasets: [
        { data: p.frame, showLine: true, pointRadius: 0, borderColor: FRAME, borderWidth: 1, tension: 0 }
      ].concat(curveSets)
    },
    options: {
      responsive: false,
      animation: false,
      events: [],
      layout: { padding: { left: ml, top: mt, right: mr, bottom: mb } },
      plugins: { legend: { display: false }, tooltip: { enabled: false } },
      scales: {
        x: { type: 'linear', display: false, min: 0, max: 100 },
        y: { type: 'linear', display: false, min: p.vRange[0], max: p.vRange[1] }
      }
    },
    plugins: [decor]
  });
}

panel({ tag: '(a)', box: [75,15,383,252], xRange: [-2,2], yRange: [-1,1], xTicks: ticksA.x, yTicks: ticksA.y, yDec: 1,
  curves: [toPoints(pathA), toPoints(pathA2)], xName: '1', yName: '2', yGap: 58, lw: 1.8 });
panel({ tag: '(b)', box: [498,15,806,252], xRange: [-1.2,1.2], yRange: [-1.5,.5], xTicks: ticksB.x, yTicks: ticksB.y, yDec: 1,
  curves: [toPoints(pathB), toPoints(pathB2)], xName: '3', yName: '4', yGap: 60, lw: 1.6 });
panel({ tag: '(c)', box: [919,15,1227,252], xRange: [0,1], yRange: [-.5,.5], xTicks: ticksC.x, yTicks: ticksC.y, xDec: 1, yDec: 1,
  curves: [toPoints(pathC), toPoints(pathC2)], xName: '5', yName: '6', yGap: 57, lw: 1.3 });
panel({ tag: '(d)', box: [75,325,397,562], xRange: [-3,3], yRange: [-3,3], xTicks: ticksD.x, yTicks: ticksD.y,
  curves: [toPoints(pathD), toPoints(pathD2), toPoints(pathD3)], xName: '7', yName: '8', yGap: 47, lw: 1.6 });

panel({ tag: '(e)', box: [498,318,806,562], xRange: [1000,1001.5], yRange: [-1.5,1.5], xTicks: ticksT, yTicks: ticksE, yDec: 1,
  curves: [toTimePoints(seriesE)], xName: 't', yName: '1', yGap: 58, lw: 2.4, mono: true });
panel({ tag: '(f)', box: [919,318,1227,562], xRange: [1000,1001.5], yRange: [-1.5,1], xTicks: ticksT, yTicks: ticksF, yDec: 1,
  curves: [toTimePoints(seriesF)], xName: 't', yName: '3', yGap: 64, lw: 2.4, mono: true });
panel({ tag: '(g)', box: [75,639,388,883], xRange: [1000,1001.5], yRange: [0,1], xTicks: ticksT, yTicks: ticksG, yDec: 1,
  curves: [toTimePoints(seriesG)], xName: 't', yName: '5', yGap: 50, lw: 2.2, mono: true });
panel({ tag: '(h)', box: [499,639,820,883], xRange: [1000,1001.5], yRange: [-3,3], xTicks: ticksT, yTicks: ticksH,
  curves: [toTimePoints(seriesH)], xName: 't', yName: '7', yGap: 47, lw: 2.4, mono: true });

panel({ tag: '(i)', box: [919,642,1240,883], xRange: [1,80], yRange: [0,5], xTicks: ticksFreq, yTicks: ticksI, scaled: true,
  curves: [toPoints(spectrumI)], xName: 'f', yName: '1', yGap: 37, lw: 2, mono: true });
panel({ tag: '(j)', box: [75,959,388,1200], xRange: [0,80], yRange: [0,1.2], xTicks: ticksFreqJ, yTicks: ticksJ, yDec: 1, scaled: true,
  curves: [toPoints(spectrumJ)], xName: 'f', yName: '3', yGap: 50, lw: 2, mono: true });
panel({ tag: '(k)', box: [497,959,811,1200], xRange: [1,80], yRange: [0,2.5], xTicks: ticksFreq, yTicks: ticksK, yDec: 1, scaled: true,
  curves: [toPoints(spectrumK)], xName: 'f', yName: '5', yGap: 49, lw: 2, mono: true });
panel({ tag: '(l)', box: [919,959,1232,1200], xRange: [1,80], yRange: [0,3], xTicks: ticksFreq, yTicks: ticksL, yDec: 1, scaled: true,
  curves: [toPoints(spectrumL)], xName: 'f', yName: '7', yGap: 49, lw: 2, mono: true });

panel3d({ tag: '(m)', tagAt: [305,1291], box: [283,1278,604,1480], vRange: [-1.93,1],
  frame: toPoints(frameM),
  curves: [toPoints(pathM), toPoints(pathM2)],
  labels: [['1',272,1280],['0',272,1347],['\u22121',266,1414],['1',272,1429],['0',340,1460],['\u22121',407,1489],['\u22122',438,1491],['0',524,1470],['2',612,1447]],
  names: [['3',243,1346,true],['2',330,1484,false],['1',539,1487,false]] });
panel3d({ tag: '(n)', tagAt: [774,1291], box: [757,1277,1077,1478], vRange: [-9.57,5],
  frame: toPoints(frameN),
  curves: [toPoints(pathN), toPoints(pathN2)],
  labels: [['5',745,1277],['0',744,1345],['\u22125',734,1413],['0.5',737,1429],['0',814,1459],['\u22120.5',871,1489],['0',904,1491],['0.5',1004,1468],['1',1086,1443]],
  names: [['7',717,1350,true],['6',804,1480,false],['5',1012,1488,false]] });
</script>
</body>
</html>
